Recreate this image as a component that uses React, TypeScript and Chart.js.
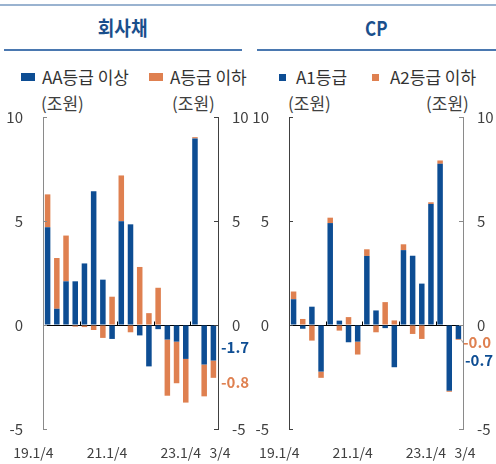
import React, { useEffect, useRef } from 'react';
import { Chart, registerables } from 'chart.js';
Chart.register(...registerables);

const QUARTERS = ['19.1/4', '2/4', '3/4', '4/4', '20.1/4', '2/4', '3/4', '4/4', '21.1/4', '2/4', '3/4', '4/4', '22.1/4', '2/4', '3/4', '4/4', '23.1/4', '2/4', '3/4'];
const SHOWN_TICKS = [0, 8, 16, 18];
const YEAR_STARTS = [4, 8, 12, 16];
const Y_TICKS = [-5, 0, 5, 10];

const BOND_AA = [4.7, 0.78, 2.1, 2.1, 2.96, 6.43, 2.18, -0.67, 4.99, 4.84, -0.5, -1.99, -0.2, -0.7, -0.8, -1.63, 8.97, -1.9, -1.71];
const BOND_A = [1.58, 2.44, 2.2, -0.08, -0.1, -0.24, -0.62, 1.36, 2.2, -0.35, 2.79, 0.57, 1.79, -2.7, -2.0, -2.1, 0.06, -1.53, -0.83];
const CP_A1 = [1.24, -0.18, 0.88, -2.24, 4.9, 0.21, -0.83, -0.8, 3.32, 0.7, -0.15, -2.03, 3.6, 3.33, 1.99, 5.82, 7.75, -3.16, -0.67];
const CP_A2 = [0.37, 0.29, -0.75, -0.3, 0.26, -0.27, 0.38, -0.62, 0.32, -0.35, 1.1, 0.22, 0.28, -0.43, -0.67, 0.08, 0.16, -0.05, -0.04];

const BLUE = '#0d4d93';
const ORANGE = '#df8050';
const TEXT = '#404040';
const FONT = '"Noto Sans CJK KR", "Noto Sans", sans-serif';

type PanelCfg = {
  blue: number[];
  orange: number[];
  leftAxis: string;
  rightAxis: string;
  rightWidth: number;
  labels: { ds: number; dy: number; dx: number; leader?: boolean }[];
};

function makePlugin(cfg: PanelCfg) {
  return {
    id: 'decor',
    afterDraw(chart: any) {
      const { ctx, chartArea: a, scales } = chart;
      const x = scales.x;
      const y = scales.y;
      ctx.save();
      ctx.lineWidth = 1;
      const line = (x1: number, y1: number, x2: number, y2: number) => {
        ctx.beginPath();
        ctx.moveTo(x1, y1);
        ctx.lineTo(x2, y2);
        ctx.stroke();
      };
      Y_TICKS.forEach((v) => {
        const py = Math.round(y.getPixelForValue(v)) + 0.5;
        ctx.strokeStyle = cfg.leftAxis;
        line(a.left, py, a.left + 4, py);
        ctx.strokeStyle = cfg.rightAxis;
        line(a.right - 4, py, a.right, py);
      });
      const py0 = Math.round(y.getPixelForValue(0)) + 0.5;
      ctx.strokeStyle = '#000';
      YEAR_STARTS.forEach((i) => {
        const px = Math.round((x.getPixelForValue(i - 1) + x.getPixelForValue(i)) / 2) + 0.5;
        line(px, py0, px, py0 - 4);
      });
      ctx.fillStyle = TEXT;
      ctx.font = '14px ' + FONT;
      ctx.textBaseline = 'middle';
      SHOWN_TICKS.forEach((i) => {
        const last = i === QUARTERS.length - 1;
        ctx.textAlign = last ? 'left' : 'right';
        ctx.fillText(QUARTERS[i], x.getPixelForValue(i) + (last ? -4 : 6), a.bottom + 24);
      });
      const n = cfg.blue.length - 1;
      const bv = cfg.blue[n];
      const ov = cfg.orange[n];
      ctx.font = 'bold 15px ' + FONT;
      ctx.textAlign = 'left';
      cfg.labels.forEach((l) => {
        const val = l.ds === 0 ? bv : ov;
        const end = l.ds === 0 ? bv : ov + (Math.sign(ov) === Math.sign(bv) ? bv : 0);
        const py = y.getPixelForValue(end);
        if (l.leader) {
          ctx.strokeStyle = '#a0a0a0';
          line(x.getPixelForValue(n) + 3, py, a.right + l.dx, py + l.dy);
        }
        ctx.fillStyle = l.ds === 0 ? BLUE : ORANGE;
        ctx.fillText(val.toFixed(1), a.right + l.dx, py + l.dy);
      });
      ctx.restore();
    },
  };
}

function Panel({ left, cfg }: { left: number; cfg: PanelCfg }) {
  const ref = useRef<HTMLCanvasElement>(null);
  useEffect(() => {
    const tickFont = { family: FONT, size: 15 };
    const chart = new Chart(ref.current as HTMLCanvasElement, {
      type: 'bar',
      data: {
        labels: QUARTERS,
        datasets: [
          { data: cfg.blue, backgroundColor: BLUE, barPercentage: 0.6, categoryPercentage: 1, stack: 's' },
          { data: cfg.orange, backgroundColor: ORANGE, barPercentage: 0.6, categoryPercentage: 1, stack: 's' },
        ],
      },
      options: {
        responsive: false,
        maintainAspectRatio: false,
        animation: false,
        devicePixelRatio: 1,
        layout: { padding: { top: 17, left: 0, right: 0, bottom: 0 } },
        plugins: { legend: { display: false }, tooltip: { enabled: false } },
        scales: {
          x: {
            stacked: true,
            offset: true,
            grid: { display: false, drawTicks: false },
            border: { display: false },
            ticks: { display: false },
            afterFit: (s: any) => { s.height = 35; s.paddingLeft = 0; s.paddingRight = 0; },
          },
          y: {
            stacked: true,
            position: 'left',
            min: -5,
            max: 10,
            ticks: { stepSize: 5, padding: 20, color: TEXT, font: tickFont },
            grid: {
              drawTicks: false,
              lineWidth: 1,
              color: (c: any) => (c.tick && c.tick.value === 0 ? '#000' : 'rgba(0,0,0,0)'),
            },
            border: { display: true, color: cfg.leftAxis, width: 1 },
            afterFit: (s: any) => { s.width = 43; s.paddingTop = 0; s.paddingBottom = 0; },
          },
          y2: {
            position: 'right',
            min: -5,
            max: 10,
            ticks: { stepSize: 5, padding: 14, color: TEXT, font: tickFont },
            grid: { display: false, drawTicks: false },
            border: { display: true, color: cfg.rightAxis, width: 1 },
            afterFit: (s: any) => { s.width = cfg.rightWidth; s.paddingTop = 0; s.paddingBottom = 0; },
          },
        },
      } as any,
      plugins: [makePlugin(cfg)],
    });
    return () => chart.destroy();
  }, []);
  return (
    <canvas
      ref={ref}
      width={250}
      height={364}
      style={{ position: 'absolute', left, top: 100, width: 250, height: 364 }}
    />
  );
}

function Txt({ x, cy, children, size = 17, color = '#333' }: any) {
  return (
    <div
      style={{
        position: 'absolute',
        left: x,
        top: cy - 12,
        height: 24,
        lineHeight: '24px',
        fontSize: size,
        color,
        whiteSpace: 'nowrap',
        fontFamily: FONT,
      }}
    >
      {children}
    </div>
  );
}

function Box({ x, y, w, h, c }: any) {
  return <div style={{ position: 'absolute', left: x, top: y, width: w, height: h, background: c }} />;
}

const bondCfg: PanelCfg = {
  blue: BOND_AA,
  orange: BOND_A,
  leftAxis: '#8a8a8a',
  rightAxis: '#404040',
  rightWidth: 32,
  labels: [
    { ds: 0, dy: -13, dx: 3 },
    { ds: 1, dy: 4, dx: 3 },
  ],
};

const cpCfg: PanelCfg = {
  blue: CP_A1,
  orange: CP_A2,
  leftAxis: '#404040',
  rightAxis: '#8a8a8a',
  rightWidth: 33,
  labels: [
    { ds: 0, dy: 21, dx: 2 },
    { ds: 1, dy: 3, dx: 0, leader: true },
  ],
};

export default function App() {
  return (
    <div
      style={{
        position: 'absolute',
        left: 0,
        top: 0,
        width: 496,
        height: 464,
        background: '#fff',
        overflow: 'hidden',
        fontFamily: FONT,
      }}
    >
      <Box x={0} y={4} w={496} h={2} c="#9ab3d0" />
      <div
        style={{
          position: 'absolute',
          left: 4,
          width: 238,
          top: 15,
          height: 26,
          lineHeight: '26px',
          textAlign: 'center',
          fontSize: 20,
          fontWeight: 'bold',
          color: '#1a4f8c',
        }}
      >
        <span style={{ display: 'inline-block', transform: 'scaleX(0.9)' }}>회사채</span>
      </div>
      <div
        style={{
          position: 'absolute',
          left: 257,
          width: 239,
          top: 15,
          height: 26,
          lineHeight: '26px',
          textAlign: 'center',
          fontSize: 20,
          fontWeight: 'bold',
          color: '#1a4f8c',
        }}
      >
        <span style={{ display: 'inline-block', transform: 'scaleX(0.85)' }}>CP</span>
      </div>
      <Box x={4} y={49} w={238} h={2} c="#4a78b0" />
      <Box x={257} y={49} w={239} h={2} c="#4a78b0" />

      <Box x={21} y={73} w={14} h={8} c={BLUE} />
      <Txt x={42} cy={77}>AA등급 이상</Txt>
      <Box x={149} y={73} w={14} h={8} c={ORANGE} />
      <Txt x={170} cy={77}>A등급 이하</Txt>
      <Box x={279} y={74} w={7} h={7} c={BLUE} />
      <Txt x={296} cy={77}>A1등급</Txt>
      <Box x={372} y={74} w={7} h={7} c={ORANGE} />
      <Txt x={390} cy={77}>A2등급 이하</Txt>

      <Txt x={41} cy={103} color={TEXT}>(조원)</Txt>
      <Txt x={172} cy={103} color={TEXT}>(조원)</Txt>
      <Txt x={288} cy={103} color={TEXT}>(조원)</Txt>
      <Txt x={426} cy={103} color={TEXT}>(조원)</Txt>

      <Panel left={0} cfg={bondCfg} />
      <Panel left={246} cfg={cpCfg} />
    </div>
  );
}
